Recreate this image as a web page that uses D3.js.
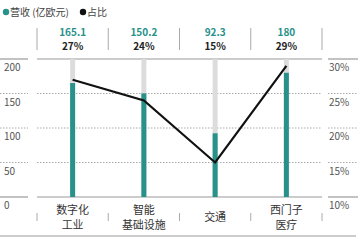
<!DOCTYPE html>
<html>
<head>
<meta charset="utf-8">
<script src="https://cdn.jsdelivr.net/npm/d3@7"></script>
<style>
  body { margin: 0; background: #fff; }
  svg { display: block; font-family: "Noto Sans CJK SC", "Noto Sans", sans-serif; }
</style>
</head>
<body>
<svg id="canvas" width="358" height="240"></svg>
<script>
var categories = [['数字化', '工业'], ['智能', '基础设施'], ['交通'], ['西门子', '医疗']];
var revenue = [165.1, 150.2, 92.3, 180];
var share = [27, 24, 15, 29];
var leftTicks = [0, 50, 100, 150, 200];
var rightTicks = [10, 15, 20, 25, 30];

var teal = '#27918a';

var svg = d3.select('svg#canvas');

var x = d3.scaleBand().domain(d3.range(categories.length)).range([37, 322]);
var y = d3.scaleLinear().domain([0, 200]).range([197, 59]);
var y2 = d3.scaleLinear().domain([10, 30]).range([197, 59]);

// legend
var legend = svg.append('g').attr('font-size', 10).attr('fill', '#444');
legend.append('circle').attr('cx', 6).attr('cy', 12).attr('r', 3.2).attr('fill', teal);
legend.append('text').attr('x', 10).attr('y', 15.5).text('营收 (亿欧元)');
legend.append('circle').attr('cx', 83).attr('cy', 12).attr('r', 3.2).attr('fill', '#111');
legend.append('text').attr('x', 87).attr('y', 15.5).text('占比');

// header separators
var seps = x.domain().map(function(d) { return x(d); }).concat([x.range()[1]]);
svg.append('g').selectAll('line').data(seps).enter().append('line')
  .attr('x1', function(d) { return d; }).attr('x2', function(d) { return d; })
  .attr('y1', 28).attr('y2', 50)
  .attr('stroke', '#aaa').attr('stroke-width', 1);

// header values
var header = svg.append('g').attr('text-anchor', 'middle').attr('font-size', 10).attr('font-weight', 'bold');
header.selectAll('.val').data(revenue).enter().append('text')
  .attr('x', function(d, i) { return x(i) + x.bandwidth() / 2; })
  .attr('y', 36).attr('fill', teal).text(function(d) { return d; });
header.selectAll('.pct').data(share).enter().append('text')
  .attr('x', function(d, i) { return x(i) + x.bandwidth() / 2; })
  .attr('y', 50).attr('fill', '#222').text(function(d) { return d + '%'; });

// grid lines in three segments
var segments = [[0, 28], [37, 322], [328, 358]];
var grid = svg.append('g');
leftTicks.forEach(function(t) {
  var solid = (t === 0 || t === 200);
  segments.forEach(function(s) {
    grid.append('line')
      .attr('x1', s[0]).attr('x2', s[1])
      .attr('y1', y(t)).attr('y2', y(t))
      .attr('stroke', solid ? '#999' : '#aaa')
      .attr('stroke-width', solid ? 1.2 : 1)
      .attr('stroke-dasharray', solid ? null : '1.5,1.5');
  });
});

// tick labels
svg.append('g').attr('font-size', 10).attr('fill', '#555').selectAll('text')
  .data(leftTicks).enter().append('text')
  .attr('x', 4).attr('y', function(d) { return y(d) + 12; })
  .text(function(d) { return d; });
svg.append('g').attr('font-size', 10).attr('fill', '#555').selectAll('text')
  .data(rightTicks).enter().append('text')
  .attr('x', 329).attr('y', function(d) { return y2(d) + 12; })
  .text(function(d) { return d + '%'; });

// bars
var bw = 5;
svg.append('g').selectAll('rect').data(revenue).enter().append('rect')
  .attr('x', function(d, i) { return x(i) + x.bandwidth() / 2 - bw / 2; })
  .attr('y', y(200)).attr('width', bw).attr('height', y(0) - y(200))
  .attr('fill', '#dcdcdc');
svg.append('g').selectAll('rect').data(revenue).enter().append('rect')
  .attr('x', function(d, i) { return x(i) + x.bandwidth() / 2 - bw / 2; })
  .attr('y', function(d) { return y(d); }).attr('width', bw)
  .attr('height', function(d) { return y(0) - y(d); })
  .attr('fill', teal);

// share line
var line = d3.line()
  .x(function(d, i) { return x(i) + x.bandwidth() / 2; })
  .y(function(d) { return y2(d); });
svg.append('path').datum(share).attr('d', line)
  .attr('fill', 'none').attr('stroke', '#111').attr('stroke-width', 2.2)
  .attr('stroke-linejoin', 'miter');

// bottom separators
svg.append('g').selectAll('line').data(seps).enter().append('line')
  .attr('x1', function(d) { return d; }).attr('x2', function(d) { return d; })
  .attr('y1', 213).attr('y2', 221)
  .attr('stroke', '#aaa').attr('stroke-width', 1);

// category labels
var cat = svg.append('g').attr('text-anchor', 'middle').attr('font-size', 11).attr('fill', '#333');
categories.forEach(function(c, i) {
  var cx = x(i) + x.bandwidth() / 2;
  if (c.length === 1) {
    cat.append('text').attr('x', cx).attr('y', 221).text(c[0]);
  } else {
    cat.append('text').attr('x', cx).attr('y', 214).text(c[0]);
    cat.append('text').attr('x', cx).attr('y', 229).text(c[1]);
  }
});

// bottom rule
svg.append('line').attr('x1', 0).attr('x2', 356).attr('y1', 236).attr('y2', 236)
  .attr('stroke', '#ccc').attr('stroke-width', 2);
</script>
</body>
</html>
